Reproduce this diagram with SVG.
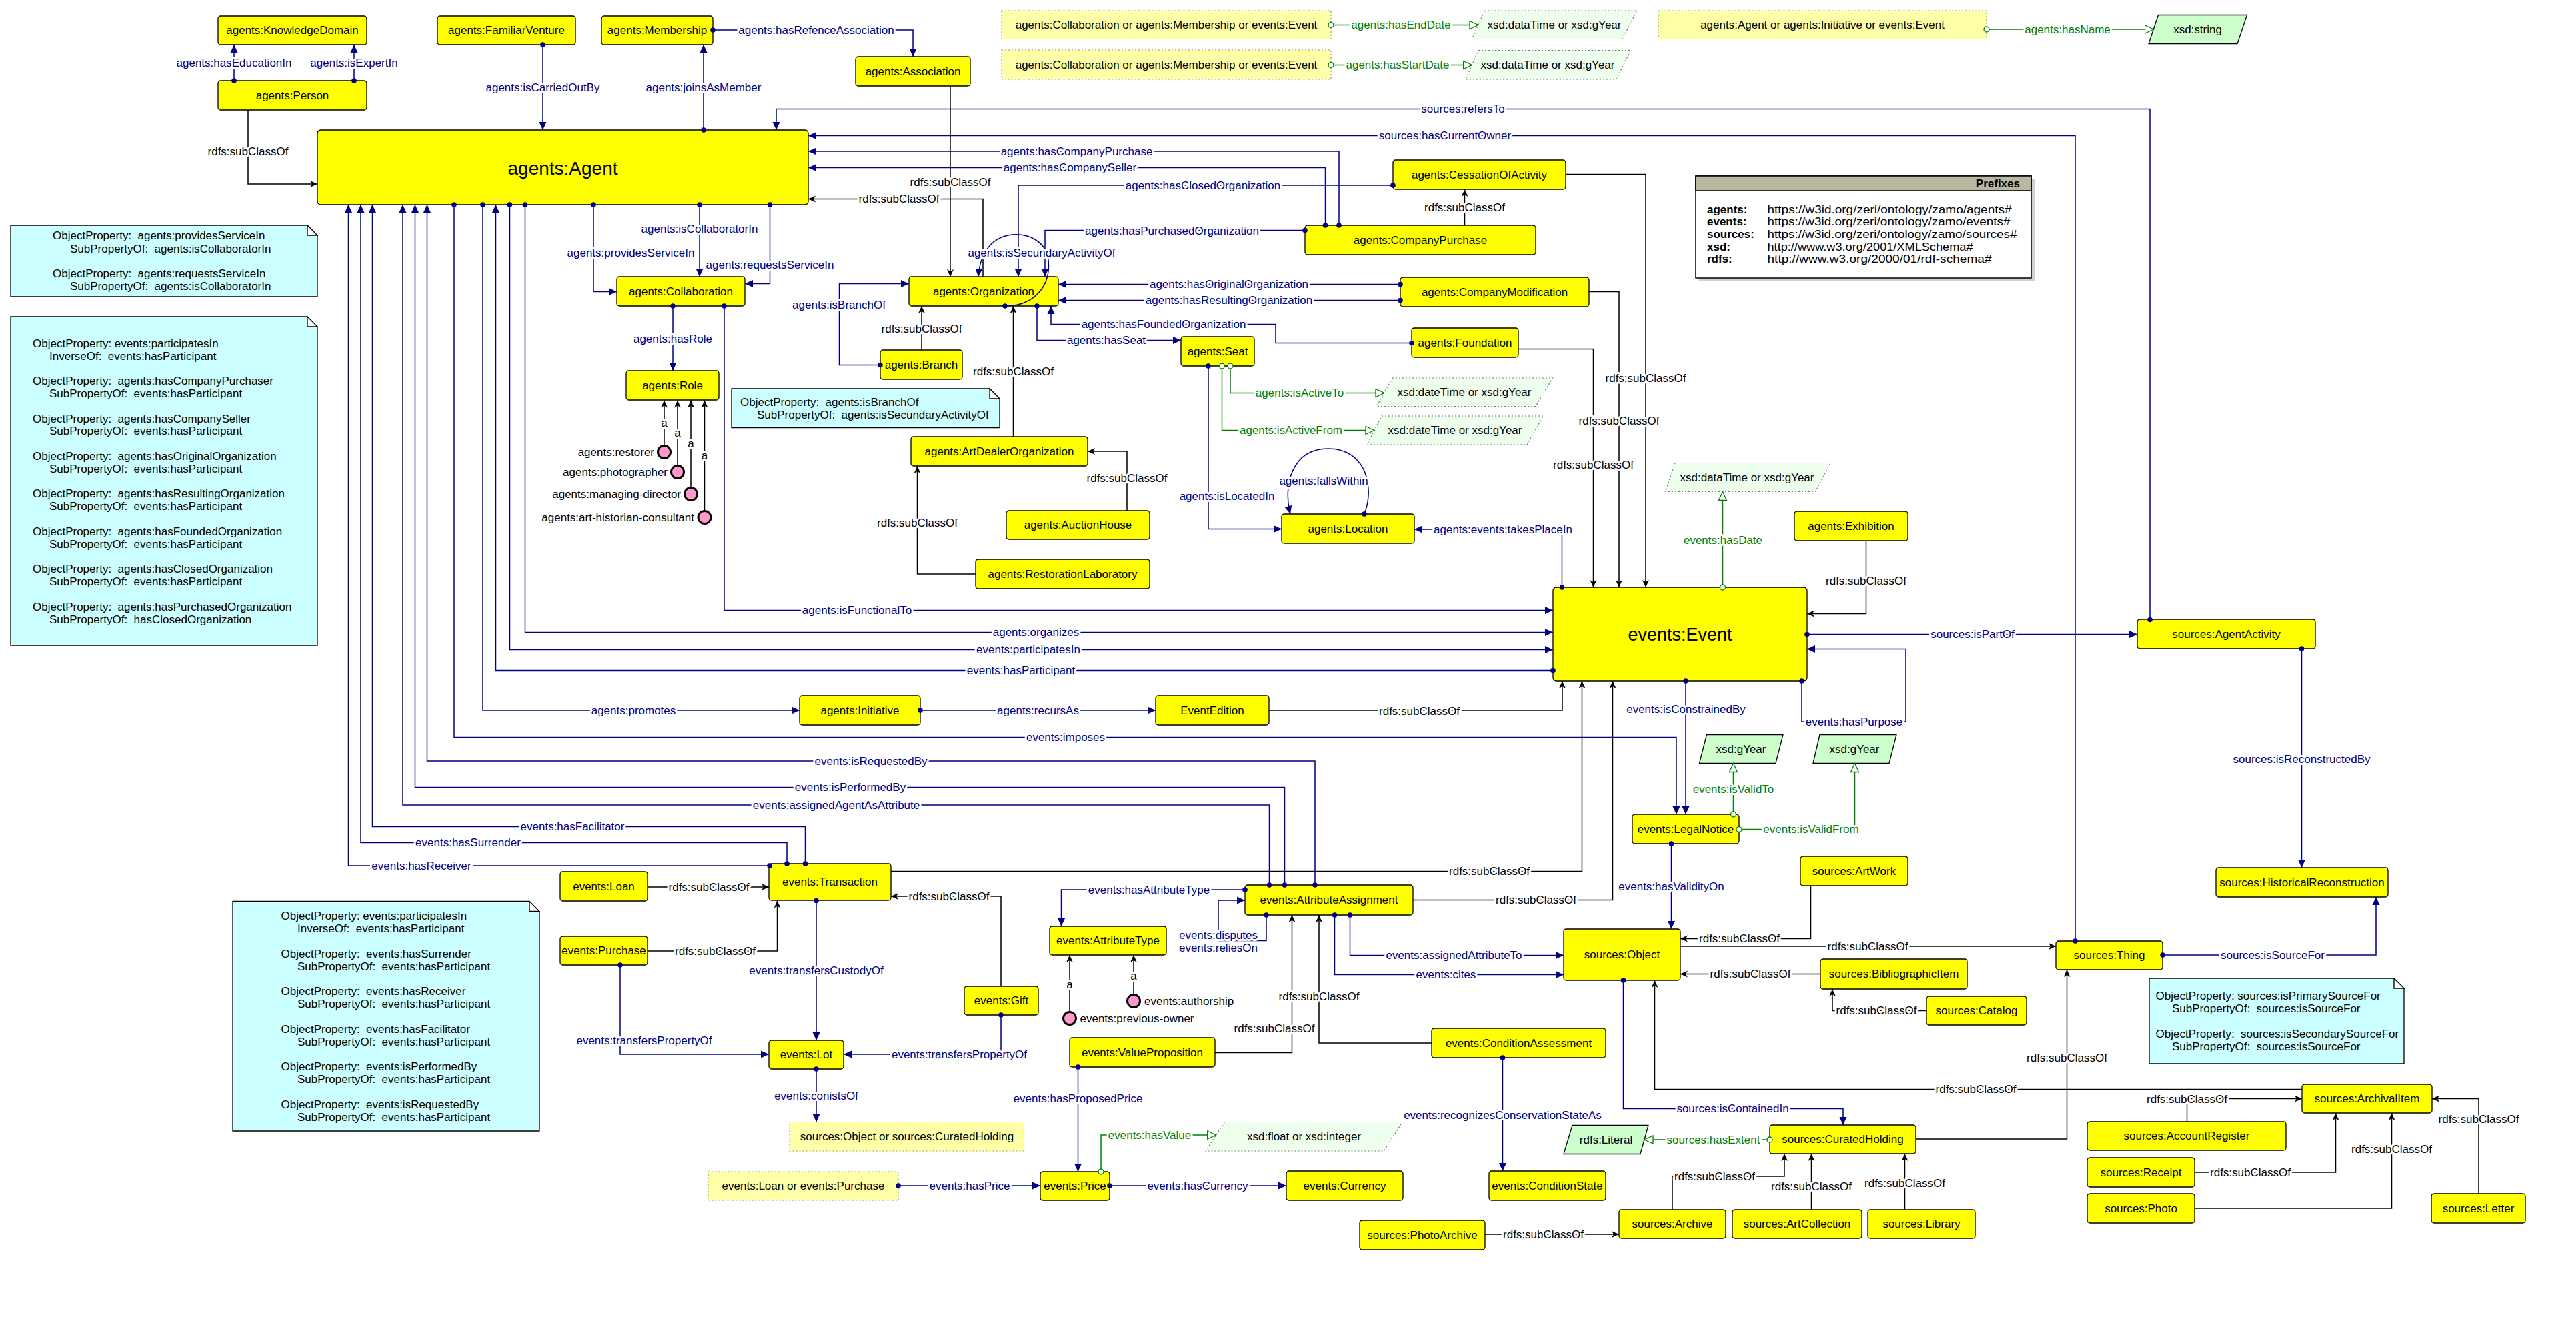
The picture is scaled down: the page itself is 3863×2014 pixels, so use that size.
<svg xmlns="http://www.w3.org/2000/svg" width="3863" height="2014" viewBox="0 0 3863 2014">
<style>
text{font-family:"Liberation Sans",Arial,sans-serif;font-size:17px;dominant-baseline:central}
.n rect{fill:#ffff00;stroke:#000;stroke-width:1.3}
.n text{text-anchor:middle;fill:#000}
.big{font-size:28px}
.e{fill:none;stroke:#000080;stroke-width:1.5;marker-start:url(#dot);marker-end:url(#arr)}
.s{fill:none;stroke:#000;stroke-width:1.5;marker-end:url(#sarr)}
.g{fill:none;stroke:#008000;stroke-width:1.5;marker-start:url(#gc);marker-end:url(#gt)}
.lb{text-anchor:middle;paint-order:stroke fill;stroke:#fff;stroke-width:6px;stroke-linejoin:round}
.le{fill:#000080}
.ls{fill:#000}
.lg{fill:#008000}
.nb{fill:#ccffff;stroke:#000;stroke-width:1.3}
.nf{fill:#fff;stroke:#000;stroke-width:1.3}
.dbox{fill:#ffffa8;stroke:#999966;stroke-width:1.2;stroke-dasharray:2 3}
.dpar{fill:#eeffee;stroke:#777;stroke-width:1.2;stroke-dasharray:2 3}
.spar{fill:#ccffcc;stroke:#000;stroke-width:1.3}
.ind{fill:#ff99cc;stroke:#000;stroke-width:3}
.tl{text-anchor:start}
.te{text-anchor:end}
.tm{text-anchor:middle}
.bold{font-weight:bold}
</style>
<defs>
<marker id="arr" markerUnits="userSpaceOnUse" markerWidth="14" markerHeight="13" refX="12" refY="6" orient="auto"><path d="M0,0.5 L12,6 L0,11.5 z" fill="#000080"/></marker>
<marker id="dot" markerUnits="userSpaceOnUse" markerWidth="10" markerHeight="10" refX="5" refY="5"><circle cx="5" cy="5" r="3.8" fill="#000080"/></marker>
<marker id="sarr" markerUnits="userSpaceOnUse" markerWidth="13" markerHeight="11" refX="11" refY="5" orient="auto"><path d="M0,0 L11,5 L0,10 L3,5 z" fill="#000"/></marker>
<marker id="gt" markerUnits="userSpaceOnUse" markerWidth="16" markerHeight="14" refX="14" refY="7" orient="auto"><path d="M1,1 L14,7 L1,13 z" fill="#fff" stroke="#008000" stroke-width="1.3"/></marker>
<marker id="gc" markerUnits="userSpaceOnUse" markerWidth="12" markerHeight="12" refX="6" refY="6"><circle cx="6" cy="6" r="4" fill="#fff" stroke="#008000" stroke-width="1.3"/></marker>
</defs>
<rect width="3863" height="2014" fill="#fff"/>

<!-- notes -->
<g id="note1">
<path class="nb" d="M16,338 H461 L476,353 V445 H16 Z"/><path class="nf" d="M461,338 V353 H476 Z"/>
<text class="tl" x="79" y="353">ObjectProperty:&#160; agents:providesServiceIn</text>
<text class="tl" x="105" y="373">SubPropertyOf:&#160; agents:isCollaboratorIn</text>
<text class="tl" x="79" y="410">ObjectProperty:&#160; agents:requestsServiceIn</text>
<text class="tl" x="105" y="429.5">SubPropertyOf:&#160; agents:isCollaboratorIn</text>
</g>
<g id="note2">
<path class="nb" d="M16,475 H461 L476,490 V968 H16 Z"/><path class="nf" d="M461,475 V490 H476 Z"/>
<text class="tl" x="49" y="515">ObjectProperty: events:participatesIn</text>
<text class="tl" x="74" y="534">InverseOf:&#160; events:hasParticipant</text>
<text class="tl" x="49" y="571">ObjectProperty:&#160; agents:hasCompanyPurchaser</text>
<text class="tl" x="74" y="590">SubPropertyOf:&#160; events:hasParticipant</text>
<text class="tl" x="49" y="628">ObjectProperty:&#160; agents:hasCompanySeller</text>
<text class="tl" x="74" y="646.5">SubPropertyOf:&#160; events:hasParticipant</text>
<text class="tl" x="49" y="684.5">ObjectProperty:&#160; agents:hasOriginalOrganization</text>
<text class="tl" x="74" y="703">SubPropertyOf:&#160; events:hasParticipant</text>
<text class="tl" x="49" y="740.5">ObjectProperty:&#160; agents:hasResultingOrganization</text>
<text class="tl" x="74" y="759.5">SubPropertyOf:&#160; events:hasParticipant</text>
<text class="tl" x="49" y="797">ObjectProperty:&#160; agents:hasFoundedOrganization</text>
<text class="tl" x="74" y="816.5">SubPropertyOf:&#160; events:hasParticipant</text>
<text class="tl" x="49" y="853.5">ObjectProperty:&#160; agents:hasClosedOrganization</text>
<text class="tl" x="74" y="872.5">SubPropertyOf:&#160; events:hasParticipant</text>
<text class="tl" x="49" y="910">ObjectProperty:&#160; agents:hasPurchasedOrganization</text>
<text class="tl" x="74" y="929.5">SubPropertyOf:&#160; hasClosedOrganization</text>
</g>
<g id="note3">
<path class="nb" d="M1097,583 H1484 L1499,598 V641.5 H1097 Z"/><path class="nf" d="M1484,583 V598 H1499 Z"/>
<text class="tl" x="1110" y="603.5">ObjectProperty:&#160; agents:isBranchOf</text>
<text class="tl" x="1135" y="622">SubPropertyOf:&#160; agents:isSecundaryActivityOf</text>
</g>
<g id="note4">
<path class="nb" d="M349,1351.5 H794 L809,1366.5 V1696 H349 Z"/><path class="nf" d="M794,1351.5 V1366.5 H809 Z"/>
<text class="tl" x="421.5" y="1373">ObjectProperty: events:participatesIn</text>
<text class="tl" x="446" y="1392.5">InverseOf:&#160; events:hasParticipant</text>
<text class="tl" x="421.5" y="1430.5">ObjectProperty:&#160; events:hasSurrender</text>
<text class="tl" x="446" y="1449">SubPropertyOf:&#160; events:hasParticipant</text>
<text class="tl" x="421.5" y="1486.5">ObjectProperty:&#160; events:hasReceiver</text>
<text class="tl" x="446" y="1505.5">SubPropertyOf:&#160; events:hasParticipant</text>
<text class="tl" x="421.5" y="1543.5">ObjectProperty:&#160; events:hasFacilitator</text>
<text class="tl" x="446" y="1562.5">SubPropertyOf:&#160; events:hasParticipant</text>
<text class="tl" x="421.5" y="1599">ObjectProperty:&#160; events:isPerformedBy</text>
<text class="tl" x="446" y="1618.5">SubPropertyOf:&#160; events:hasParticipant</text>
<text class="tl" x="421.5" y="1656.5">ObjectProperty:&#160; events:isRequestedBy</text>
<text class="tl" x="446" y="1675.5">SubPropertyOf:&#160; events:hasParticipant</text>
</g>
<g id="note5">
<path class="nb" d="M3223,1467 H3590 L3605,1482 V1595 H3223 Z"/><path class="nf" d="M3590,1467 V1482 H3605 Z"/>
<text class="tl" x="3232.5" y="1493.5">ObjectProperty: sources:isPrimarySourceFor</text>
<text class="tl" x="3257" y="1512.5">SubPropertyOf:&#160; sources:isSourceFor</text>
<text class="tl" x="3232.5" y="1550.5">ObjectProperty:&#160; sources:isSecondarySourceFor</text>
<text class="tl" x="3257" y="1569.5">SubPropertyOf:&#160; sources:isSourceFor</text>
</g>

<!-- prefixes -->
<g id="prefixes">
<rect x="2548" y="269" width="503" height="153" fill="#d0d0d0"/>
<rect x="2543" y="264" width="503" height="153" fill="#fff" stroke="#000" stroke-width="1.5"/>
<rect x="2543" y="264" width="503" height="22" fill="#b8b8a0" stroke="#000" stroke-width="1.5"/>
<text class="te bold" x="3029" y="275.5">Prefixes</text>
<text class="tl bold" x="2560" y="314">agents:</text>
<text class="tl bold" x="2560" y="332.5">events:</text>
<text class="tl bold" x="2560" y="351">sources:</text>
<text class="tl bold" x="2560" y="370">xsd:</text>
<text class="tl bold" x="2560" y="388.5">rdfs:</text>
<text class="tl" x="2650.5" y="314" textLength="366" lengthAdjust="spacingAndGlyphs">https://w3id.org/zeri/ontology/zamo/agents#</text>
<text class="tl" x="2650.5" y="332.5" textLength="364" lengthAdjust="spacingAndGlyphs">https://w3id.org/zeri/ontology/zamo/events#</text>
<text class="tl" x="2650.5" y="351" textLength="374" lengthAdjust="spacingAndGlyphs">https://w3id.org/zeri/ontology/zamo/sources#</text>
<text class="tl" x="2650.5" y="370" textLength="308" lengthAdjust="spacingAndGlyphs">http://www.w3.org/2001/XMLSchema#</text>
<text class="tl" x="2650.5" y="388.5" textLength="336" lengthAdjust="spacingAndGlyphs">http://www.w3.org/2000/01/rdf-schema#</text>
</g>

<!-- dotted boxes and literals -->
<g id="union1"><rect class="dbox" x="1502" y="16" width="494" height="42.5"/><text class="tm" x="1749" y="37.5">agents:Collaboration or agents:Membership or events:Event</text></g>
<g id="union2"><rect class="dbox" x="1502" y="75" width="494" height="44"/><text class="tm" x="1749" y="97">agents:Collaboration or agents:Membership or events:Event</text></g>
<g id="union3"><rect class="dbox" x="2487" y="16" width="492" height="42.5"/><text class="tm" x="2733" y="37.5">agents:Agent or agents:Initiative or events:Event</text></g>
<g id="union4"><rect class="dbox" x="1184" y="1682.5" width="351.5" height="43.5"/><text class="tm" x="1360" y="1704">sources:Object or sources:CuratedHolding</text></g>
<g id="union5"><rect class="dbox" x="1062" y="1757" width="285" height="43"/><text class="tm" x="1204.5" y="1778.5">events:Loan or events:Purchase</text></g>

<g id="dt1"><path class="dpar" d="M2226.5,16 H2455 L2433,58.5 H2207.5 Z"/><text class="tm" x="2331" y="37.5">xsd:dataTime or xsd:gYear</text></g>
<g id="dt2"><path class="dpar" d="M2217,75.5 H2445.5 L2424,119 H2198 Z"/><text class="tm" x="2321" y="97">xsd:dataTime or xsd:gYear</text></g>
<g id="dt3"><path class="dpar" d="M2088,567 H2328.5 L2303,609.5 H2064.5 Z"/><text class="tm" x="2196" y="588">xsd:dateTime or xsd:gYear</text></g>
<g id="dt4"><path class="dpar" d="M2072,624 H2314.5 L2290,667 H2050 Z"/><text class="tm" x="2182" y="645.5">xsd:dateTime or xsd:gYear</text></g>
<g id="dt5"><path class="dpar" d="M2512,694.5 H2745 L2722.5,737.5 H2497.5 Z"/><text class="tm" x="2620" y="716">xsd:dataTime or xsd:gYear</text></g>
<g id="dt6"><path class="dpar" d="M1836.5,1682.5 H2103 L2075.5,1726 H1808 Z"/><text class="tm" x="1955.5" y="1704">xsd:float or xsd:integer</text></g>
<g id="xsdstring"><path class="spar" d="M3236.5,22.5 H3369.5 L3355,65.5 H3222 Z"/><text class="tm" x="3295.5" y="44">xsd:string</text></g>
<g id="gyear1"><path class="spar" d="M2559.5,1101.5 H2674 L2663,1144.5 H2548.5 Z"/><text class="tm" x="2611" y="1123">xsd:gYear</text></g>
<g id="gyear2"><path class="spar" d="M2729,1101.5 H2844 L2833,1144.5 H2719 Z"/><text class="tm" x="2781" y="1123">xsd:gYear</text></g>
<g id="literal"><path class="spar" d="M2358,1687.5 H2472 L2460,1730.5 H2345 Z"/><text class="tm" x="2408.5" y="1709">rdfs:Literal</text></g>

<!-- nodes -->
<g id="KnowledgeDomain" class="n"><rect x="327" y="24" width="223" height="43" rx="4"/><text x="438.5" y="45.5">agents:KnowledgeDomain</text></g>
<g id="Person" class="n"><rect x="327" y="121" width="223" height="44" rx="4"/><text x="438.5" y="143">agents:Person</text></g>
<g id="FamiliarVenture" class="n"><rect x="656" y="24" width="207" height="43" rx="4"/><text x="759.5" y="45.5">agents:FamiliarVenture</text></g>
<g id="Membership" class="n"><rect x="902" y="24" width="167" height="43" rx="4"/><text x="985.5" y="45.5">agents:Membership</text></g>
<g id="Association" class="n"><rect x="1283" y="85" width="172" height="44" rx="4"/><text x="1369" y="107">agents:Association</text></g>
<g id="Agent" class="n"><rect x="476" y="195" width="736" height="112" rx="5"/><text class="big" x="844" y="252">agents:Agent</text></g>
<g id="Collaboration" class="n"><rect x="925" y="415" width="192" height="44" rx="4"/><text x="1021" y="437">agents:Collaboration</text></g>
<g id="Role" class="n"><rect x="939" y="556" width="139" height="44" rx="4"/><text x="1008.5" y="578">agents:Role</text></g>
<g id="Organization" class="n"><rect x="1363" y="415" width="224" height="44" rx="4"/><text x="1475" y="437">agents:Organization</text></g>
<g id="Branch" class="n"><rect x="1320" y="525" width="123" height="44" rx="4"/><text x="1381.5" y="547">agents:Branch</text></g>
<g id="Seat" class="n"><rect x="1771" y="505" width="110" height="44" rx="4"/><text x="1826" y="527">agents:Seat</text></g>
<g id="ArtDealerOrganization" class="n"><rect x="1366" y="655" width="265" height="44" rx="4"/><text x="1498.5" y="677">agents:ArtDealerOrganization</text></g>
<g id="AuctionHouse" class="n"><rect x="1509" y="766" width="215" height="43" rx="4"/><text x="1616.5" y="787.5">agents:AuctionHouse</text></g>
<g id="RestorationLaboratory" class="n"><rect x="1463" y="839" width="261" height="44" rx="4"/><text x="1593.5" y="861">agents:RestorationLaboratory</text></g>
<g id="CessationOfActivity" class="n"><rect x="2089" y="240" width="259" height="44" rx="4"/><text x="2218.5" y="262">agents:CessationOfActivity</text></g>
<g id="CompanyPurchase" class="n"><rect x="1957" y="338" width="346" height="44" rx="4"/><text x="2130" y="360">agents:CompanyPurchase</text></g>
<g id="CompanyModification" class="n"><rect x="2100" y="416" width="283" height="44" rx="4"/><text x="2241.5" y="438">agents:CompanyModification</text></g>
<g id="Foundation" class="n"><rect x="2117" y="492" width="160" height="44" rx="4"/><text x="2197" y="514">agents:Foundation</text></g>
<g id="Location" class="n"><rect x="1922" y="771" width="199" height="44" rx="4"/><text x="2021.5" y="793">agents:Location</text></g>
<g id="Exhibition" class="n"><rect x="2691" y="767" width="170" height="44" rx="4"/><text x="2776" y="789">agents:Exhibition</text></g>
<g id="Event" class="n"><rect x="2329" y="881" width="381" height="140" rx="5"/><text class="big" x="2519.5" y="952" style="font-size:27px">events:Event</text></g>
<g id="AgentActivity" class="n"><rect x="3205" y="929" width="267" height="44" rx="4"/><text x="3338.5" y="951">sources:AgentActivity</text></g>
<g id="HistoricalReconstruction" class="n"><rect x="3323" y="1301" width="258" height="44" rx="4"/><text x="3452" y="1323">sources:HistoricalReconstruction</text></g>
<g id="Initiative" class="n"><rect x="1199" y="1043" width="181" height="44" rx="4"/><text x="1289.5" y="1065">agents:Initiative</text></g>
<g id="EventEdition" class="n"><rect x="1733" y="1043" width="170" height="44" rx="4"/><text x="1818" y="1065">EventEdition</text></g>
<g id="LegalNotice" class="n"><rect x="2448" y="1221" width="160" height="44" rx="4"/><text x="2528" y="1243">events:LegalNotice</text></g>
<g id="ArtWork" class="n"><rect x="2700" y="1284" width="161" height="44" rx="4"/><text x="2780.5" y="1306">sources:ArtWork</text></g>
<g id="Transaction" class="n"><rect x="1153" y="1295" width="183" height="55" rx="4"/><text x="1244.5" y="1322.5">events:Transaction</text></g>
<g id="Loan" class="n"><rect x="840" y="1307" width="131" height="44" rx="4"/><text x="905.5" y="1329">events:Loan</text></g>
<g id="Purchase" class="n"><rect x="840" y="1404" width="131" height="43" rx="4"/><text x="905.5" y="1425.5">events:Purchase</text></g>
<g id="AttributeAssignment" class="n"><rect x="1867" y="1327" width="252" height="45" rx="4"/><text x="1993" y="1349.5">events:AttributeAssignment</text></g>
<g id="AttributeType" class="n"><rect x="1574" y="1389" width="175" height="43" rx="4"/><text x="1661.5" y="1410.5">events:AttributeType</text></g>
<g id="Gift" class="n"><rect x="1446" y="1479" width="111" height="43" rx="4"/><text x="1501.5" y="1500.5">events:Gift</text></g>
<g id="Lot" class="n"><rect x="1153" y="1560" width="112" height="43" rx="4"/><text x="1209" y="1581.5">events:Lot</text></g>
<g id="ValueProposition" class="n"><rect x="1604" y="1556" width="218" height="44" rx="4"/><text x="1713" y="1578">events:ValueProposition</text></g>
<g id="Object" class="n"><rect x="2345" y="1393" width="175" height="77" rx="4"/><text x="2432.5" y="1431.5">sources:Object</text></g>
<g id="Thing" class="n"><rect x="3083" y="1411" width="160" height="43" rx="4"/><text x="3163" y="1432.5">sources:Thing</text></g>
<g id="BibliographicItem" class="n"><rect x="2730" y="1438" width="220" height="45" rx="4"/><text x="2840" y="1460.5">sources:BibliographicItem</text></g>
<g id="Catalog" class="n"><rect x="2889" y="1494" width="150" height="43" rx="4"/><text x="2964" y="1515.5">sources:Catalog</text></g>
<g id="ConditionAssessment" class="n"><rect x="2147" y="1542" width="261" height="44" rx="4"/><text x="2277.5" y="1564">events:ConditionAssessment</text></g>
<g id="Price" class="n"><rect x="1560" y="1757" width="104" height="43" rx="4"/><text x="1612" y="1778.5">events:Price</text></g>
<g id="Currency" class="n"><rect x="1929" y="1756" width="175" height="44" rx="4"/><text x="2016.5" y="1778">events:Currency</text></g>
<g id="ConditionState" class="n"><rect x="2233" y="1756" width="175" height="44" rx="4"/><text x="2320.5" y="1778">events:ConditionState</text></g>
<g id="CuratedHolding" class="n"><rect x="2654" y="1687" width="219" height="43" rx="4"/><text x="2763.5" y="1708.5">sources:CuratedHolding</text></g>
<g id="ArchivalItem" class="n"><rect x="3452" y="1626" width="195" height="43" rx="4"/><text x="3549.5" y="1647.5">sources:ArchivalItem</text></g>
<g id="AccountRegister" class="n"><rect x="3130" y="1682" width="298" height="43" rx="4"/><text x="3279" y="1703.5">sources:AccountRegister</text></g>
<g id="Receipt" class="n"><rect x="3130" y="1736" width="161" height="44" rx="4"/><text x="3210.5" y="1758">sources:Receipt</text></g>
<g id="Photo" class="n"><rect x="3130" y="1790" width="161" height="44" rx="4"/><text x="3210.5" y="1812">sources:Photo</text></g>
<g id="Letter" class="n"><rect x="3646" y="1790" width="141" height="44" rx="4"/><text x="3716.5" y="1812">sources:Letter</text></g>
<g id="PhotoArchive" class="n"><rect x="2039" y="1830" width="188" height="44" rx="4"/><text x="2133" y="1852">sources:PhotoArchive</text></g>
<g id="Archive" class="n"><rect x="2428" y="1814" width="160" height="43" rx="4"/><text x="2508" y="1835.5">sources:Archive</text></g>
<g id="ArtCollection" class="n"><rect x="2598" y="1814" width="194" height="43" rx="4"/><text x="2695" y="1835.5">sources:ArtCollection</text></g>
<g id="Library" class="n"><rect x="2801" y="1814" width="161" height="43" rx="4"/><text x="2881.5" y="1835.5">sources:Library</text></g>

<!-- individuals -->
<g id="restorer"><circle class="ind" cx="996" cy="678" r="9.5"/><text class="te" x="981" y="678">agents:restorer</text></g>
<g id="photographer"><circle class="ind" cx="1016" cy="708" r="9.5"/><text class="te" x="1001" y="708">agents:photographer</text></g>
<g id="managing-director"><circle class="ind" cx="1036" cy="741" r="9.5"/><text class="te" x="1021" y="741">agents:managing-director</text></g>
<g id="art-historian-consultant"><circle class="ind" cx="1056.5" cy="776" r="9.5"/><text class="te" x="1041" y="776">agents:art-historian-consultant</text></g>
<g id="previous-owner"><circle class="ind" cx="1604" cy="1527" r="9.5"/><text class="tl" x="1619.5" y="1527">events:previous-owner</text></g>
<g id="authorship"><circle class="ind" cx="1700" cy="1501" r="9.5"/><text class="tl" x="1716" y="1501">events:authorship</text></g>

<!-- connectors -->
<g id="connectors">
<path class="e" d="M351,121 V67"/>
<path class="e" d="M531,121 V67"/>
<path class="e" d="M814,67 V195"/>
<path class="e" d="M1055,195 V67"/>
<path class="e" d="M1069,45 H1369 V85"/>
<path class="e" d="M3224,929.5 V163.5 H1164 V195"/>
<path class="e" d="M3112,1411 V203.5 H1212"/>
<path class="e" d="M2008,338 V227 H1212"/>
<path class="e" d="M1987.5,338 V251.5 H1212"/>
<path class="e" d="M2089,278 H1527 V415"/>
<path class="e" d="M1957,345.5 H1567 V415"/>
<path class="e" d="M1507,459 C1552,459 1576,428 1572,390 C1569,362 1542,350 1518,352 C1490,355 1470,375 1467,415"/>
<path class="e" d="M2100,426.5 H1587"/>
<path class="e" d="M2100,450.5 H1587"/>
<path class="e" d="M2117,514.5 H1913 V486.5 H1576 V459"/>
<path class="e" d="M1555,459 V510.5 H1771"/>
<path class="e" d="M1320,547.5 H1258.5 V425.5 H1363"/>
<path class="e" d="M1049,307 V415"/>
<path class="e" d="M890,307 V437.5 H925"/>
<path class="e" d="M1154.5,307 V425.5 H1117"/>
<path class="e" d="M1009,459 V556"/>
<path class="e" d="M1086,459 V915.5 H2329"/>
<path class="e" d="M787.5,307 V948.5 H2329"/>
<path class="e" d="M764.5,307 V974.5 H2329"/>
<path class="e" d="M2329,1005.5 H743.5 V307"/>
<path class="e" d="M724,307 V1065 H1199"/>
<path class="e" d="M1380,1065 H1733"/>
<path class="e" d="M681,307 V1105.5 H2514 V1221"/>
<path class="e" d="M1972,1327 V1141 H640.5 V307"/>
<path class="e" d="M1926.5,1327 V1180.5 H622.5 V307"/>
<path class="e" d="M1903.5,1327 V1207 H604 V307"/>
<path class="e" d="M1207.5,1295 V1239.5 H558.5 V307"/>
<path class="e" d="M1180,1295 V1263.5 H541 V307"/>
<path class="e" d="M1154,1298 H522.5 V307"/>
<path class="e" d="M1224,1350.5 V1560"/>
<path class="e" d="M930,1447 V1581 H1153"/>
<path class="e" d="M1501,1522 V1581 H1265"/>
<path class="e" d="M1224,1603 V1682.5"/>
<path class="e" d="M1347,1778 H1560"/>
<path class="e" d="M1664,1778 H1929"/>
<path class="e" d="M1616.5,1600 V1757"/>
<path class="e" d="M1867,1334 H1591.5 V1389"/>
<path class="e" d="M1899,1372 V1410.5 H1827 V1350 H1867"/>
<path class="e" d="M2024.5,1372 V1432.5 H2345"/>
<path class="e" d="M2001.5,1372 V1461.5 H2345"/>
<path class="e" d="M2253.5,1586 V1756"/>
<path class="e" d="M2506.5,1265 V1393"/>
<path class="e" d="M2528,1021 V1221"/>
<path class="e" d="M2702,1021 V1082 H2858 V973.5 H2710"/>
<path class="e" d="M2710,951.5 H3205"/>
<path class="e" d="M3451.5,973 V1301"/>
<path class="e" d="M3243,1432 H3563 V1345"/>
<path class="e" d="M2434.5,1470 V1662.5 H2764 V1687"/>
<path class="e" d="M2342.5,881 V794 H2121"/>
<path class="e" d="M1812,549 V793.5 H1922"/>
<path class="e" d="M2046,771 C2062,730 2048,673 1992,673 C1936,673 1924,730 1935,771"/>
<path class="g" d="M1996,37.5 H2217"/>
<path class="g" d="M1996,97.5 H2207.5"/>
<path class="g" d="M2979,44 H3229.5"/>
<path class="g" d="M1845,549 V589.5 H2076"/>
<path class="g" d="M1832.5,549 V645.5 H2061"/>
<path class="g" d="M2583.5,881 V737.5"/>
<path class="g" d="M2599.5,1221 V1144.5"/>
<path class="g" d="M2608,1243.5 H2781.5 V1144.5"/>
<path class="g" d="M1651,1757 V1702 H1823.5"/>
<path class="g" d="M2654,1709 H2466"/>
<path class="s" d="M372,165 V276 H476"/>
<path class="s" d="M1425,129 V415"/>
<path class="s" d="M1474,415 V298.5 H1212"/>
<path class="s" d="M1382,525 V459"/>
<path class="s" d="M1519.5,655 V459"/>
<path class="s" d="M1690,766 V677 H1631"/>
<path class="s" d="M1463,861 H1375.5 V699"/>
<path class="s" d="M2196.5,338 V284"/>
<path class="s" d="M2348,261.5 H2468 V881"/>
<path class="s" d="M2383,437.5 H2428 V881"/>
<path class="s" d="M2277,523.5 H2389.5 V881"/>
<path class="s" d="M2798.5,811 V920.5 H2710"/>
<path class="s" d="M1903,1065 H2343 V1021"/>
<path class="s" d="M1336,1306.5 H2372.5 V1021"/>
<path class="s" d="M2119,1349.5 H2418.5 V1021"/>
<path class="s" d="M971,1330 H1153"/>
<path class="s" d="M971,1426 H1165.5 V1350.5"/>
<path class="s" d="M1501,1479 V1344 H1336"/>
<path class="s" d="M1822,1578.5 H1937.5 V1372"/>
<path class="s" d="M2147,1564 H1978 V1372"/>
<path class="s" d="M2715.5,1328 V1407.5 H2520"/>
<path class="s" d="M2520,1419 H3083"/>
<path class="s" d="M2730,1460.5 H2520"/>
<path class="s" d="M2889,1515.5 H2748 V1483"/>
<path class="s" d="M2873,1708 H3099.5 V1454"/>
<path class="s" d="M3452,1633.5 H2481.5 V1470"/>
<path class="s" d="M3279.5,1682 V1647.5 H3452"/>
<path class="s" d="M3291,1758 H3502.5 V1669"/>
<path class="s" d="M3291,1812 H3586.5 V1669"/>
<path class="s" d="M3717,1790 V1647.5 H3647"/>
<path class="s" d="M2227,1851 H2428"/>
<path class="s" d="M2508,1814 V1764 H2676 V1730"/>
<path class="s" d="M2716.5,1814 V1730"/>
<path class="s" d="M2856.5,1814 V1730"/>
<path class="s" d="M996,668 V600.5"/>
<path class="s" d="M1016,698 V600.5"/>
<path class="s" d="M1036,731 V600.5"/>
<path class="s" d="M1056.5,766 V600.5"/>
<path class="s" d="M1604,1517 V1432"/>
<path class="s" d="M1700,1491 V1432"/>

<text class="lb le" x="351" y="94.5">agents:hasEducationIn</text>
<text class="lb le" x="531" y="94.5">agents:isExpertIn</text>
<text class="lb le" x="814" y="131.5">agents:isCarriedOutBy</text>
<text class="lb le" x="1055" y="131.5">agents:joinsAsMember</text>
<text class="lb le" x="1224" y="45">agents:hasRefenceAssociation</text>
<text class="lb le" x="2194" y="163.5">sources:refersTo</text>
<text class="lb le" x="2167" y="203.5">sources:hasCurrentOwner</text>
<text class="lb le" x="1614.5" y="227">agents:hasCompanyPurchase</text>
<text class="lb le" x="1604.5" y="251.5">agents:hasCompanySeller</text>
<text class="lb le" x="1804" y="278">agents:hasClosedOrganization</text>
<text class="lb le" x="1757.5" y="346">agents:hasPurchasedOrganization</text>
<text class="lb le" x="1562" y="379.5">agents:isSecundaryActivityOf</text>
<text class="lb le" x="1843" y="426.5">agents:hasOriginalOrganization</text>
<text class="lb le" x="1843" y="450.5">agents:hasResultingOrganization</text>
<text class="lb le" x="1745" y="486.5">agents:hasFoundedOrganization</text>
<text class="lb le" x="1659" y="510.5">agents:hasSeat</text>
<text class="lb le" x="1258" y="457">agents:isBranchOf</text>
<text class="lb le" x="1049" y="343.5">agents:isCollaboratorIn</text>
<text class="lb le" x="946" y="379.5">agents:providesServiceIn</text>
<text class="lb le" x="1154.5" y="397.5">agents:requestsServiceIn</text>
<text class="lb le" x="1009" y="508">agents:hasRole</text>
<text class="lb le" x="1285" y="915.5">agents:isFunctionalTo</text>
<text class="lb le" x="1553.5" y="948.5">agents:organizes</text>
<text class="lb le" x="1542" y="974.5">events:participatesIn</text>
<text class="lb le" x="1531" y="1005.5">events:hasParticipant</text>
<text class="lb le" x="950" y="1065">agents:promotes</text>
<text class="lb le" x="1556.5" y="1065">agents:recursAs</text>
<text class="lb le" x="1598" y="1105.5">events:imposes</text>
<text class="lb le" x="1306" y="1141">events:isRequestedBy</text>
<text class="lb le" x="1275" y="1180.5">events:isPerformedBy</text>
<text class="lb le" x="1254" y="1207">events:assignedAgentAsAttribute</text>
<text class="lb le" x="858.5" y="1239.5">events:hasFacilitator</text>
<text class="lb le" x="702" y="1263.5">events:hasSurrender</text>
<text class="lb le" x="632" y="1298">events:hasReceiver</text>
<text class="lb le" x="1224" y="1455.5">events:transfersCustodyOf</text>
<text class="lb le" x="966" y="1560.5">events:transfersPropertyOf</text>
<text class="lb le" x="1438.5" y="1581">events:transfersPropertyOf</text>
<text class="lb le" x="1224" y="1643">events:conistsOf</text>
<text class="lb le" x="1454" y="1778">events:hasPrice</text>
<text class="lb le" x="1796" y="1778">events:hasCurrency</text>
<text class="lb le" x="1616.5" y="1647.5">events:hasProposedPrice</text>
<text class="lb le" x="1723" y="1334">events:hasAttributeType</text>
<text class="lb le" x="1827" y="1402.5">events:disputes</text>
<text class="lb le" x="1827" y="1421.5">events:reliesOn</text>
<text class="lb le" x="2180.5" y="1432.5">events:assignedAttributeTo</text>
<text class="lb le" x="2168.5" y="1461.5">events:cites</text>
<text class="lb le" x="2253.5" y="1672.5">events:recognizesConservationStateAs</text>
<text class="lb le" x="2506.5" y="1329.5">events:hasValidityOn</text>
<text class="lb le" x="2528.5" y="1063.5">events:isConstrainedBy</text>
<text class="lb le" x="2780.5" y="1082">events:hasPurpose</text>
<text class="lb le" x="2958" y="951.5">sources:isPartOf</text>
<text class="lb le" x="3451.5" y="1138.5">sources:isReconstructedBy</text>
<text class="lb le" x="3408" y="1432">sources:isSourceFor</text>
<text class="lb le" x="2598.5" y="1662.5">sources:isContainedIn</text>
<text class="lb le" x="2254" y="794">agents:events:takesPlaceIn</text>
<text class="lb le" x="1840" y="744">agents:isLocatedIn</text>
<text class="lb le" x="1985" y="721.5">agents:fallsWithin</text>
<text class="lb lg" x="2101" y="37.5">agents:hasEndDate</text>
<text class="lb lg" x="2096" y="97.5">agents:hasStartDate</text>
<text class="lb lg" x="3100.5" y="44">agents:hasName</text>
<text class="lb lg" x="1949" y="589.5">agents:isActiveTo</text>
<text class="lb lg" x="1936" y="645.5">agents:isActiveFrom</text>
<text class="lb lg" x="2584" y="810">events:hasDate</text>
<text class="lb lg" x="2599.5" y="1183">events:isValidTo</text>
<text class="lb lg" x="2716" y="1243.5">events:isValidFrom</text>
<text class="lb lg" x="1724" y="1702">events:hasValue</text>
<text class="lb lg" x="2569.5" y="1709">sources:hasExtent</text>
<text class="lb ls" x="372" y="227">rdfs:subClassOf</text>
<text class="lb ls" x="1425" y="273">rdfs:subClassOf</text>
<text class="lb ls" x="1348" y="298.5">rdfs:subClassOf</text>
<text class="lb ls" x="1382" y="493.5">rdfs:subClassOf</text>
<text class="lb ls" x="1519.5" y="557">rdfs:subClassOf</text>
<text class="lb ls" x="1690" y="717">rdfs:subClassOf</text>
<text class="lb ls" x="1375.5" y="784">rdfs:subClassOf</text>
<text class="lb ls" x="2196.5" y="311">rdfs:subClassOf</text>
<text class="lb ls" x="2468" y="567">rdfs:subClassOf</text>
<text class="lb ls" x="2428" y="631">rdfs:subClassOf</text>
<text class="lb ls" x="2389.5" y="697">rdfs:subClassOf</text>
<text class="lb ls" x="2798.5" y="871">rdfs:subClassOf</text>
<text class="lb ls" x="2128.5" y="1066">rdfs:subClassOf</text>
<text class="lb ls" x="2233.5" y="1306.5">rdfs:subClassOf</text>
<text class="lb ls" x="2303.5" y="1349.5">rdfs:subClassOf</text>
<text class="lb ls" x="1063" y="1330">rdfs:subClassOf</text>
<text class="lb ls" x="1072.5" y="1426">rdfs:subClassOf</text>
<text class="lb ls" x="1423" y="1344">rdfs:subClassOf</text>
<text class="lb ls" x="1911" y="1542">rdfs:subClassOf</text>
<text class="lb ls" x="1978" y="1494.5">rdfs:subClassOf</text>
<text class="lb ls" x="2608.5" y="1407.5">rdfs:subClassOf</text>
<text class="lb ls" x="2801" y="1419">rdfs:subClassOf</text>
<text class="lb ls" x="2625" y="1460.5">rdfs:subClassOf</text>
<text class="lb ls" x="2814" y="1515.5">rdfs:subClassOf</text>
<text class="lb ls" x="3099.5" y="1586">rdfs:subClassOf</text>
<text class="lb ls" x="2963" y="1633.5">rdfs:subClassOf</text>
<text class="lb ls" x="3279.5" y="1648">rdfs:subClassOf</text>
<text class="lb ls" x="3374.5" y="1758">rdfs:subClassOf</text>
<text class="lb ls" x="3586.5" y="1723">rdfs:subClassOf</text>
<text class="lb ls" x="3717" y="1678.5">rdfs:subClassOf</text>
<text class="lb ls" x="2314.5" y="1851">rdfs:subClassOf</text>
<text class="lb ls" x="2571.5" y="1764">rdfs:subClassOf</text>
<text class="lb ls" x="2716.5" y="1779">rdfs:subClassOf</text>
<text class="lb ls" x="2856.5" y="1774">rdfs:subClassOf</text>
<text class="lb ls" x="996" y="634">a</text>
<text class="lb ls" x="1016" y="649.5">a</text>
<text class="lb ls" x="1036" y="665">a</text>
<text class="lb ls" x="1056.5" y="683.5">a</text>
<text class="lb ls" x="1604" y="1476">a</text>
<text class="lb ls" x="1700" y="1463">a</text>
</g>
</svg>
